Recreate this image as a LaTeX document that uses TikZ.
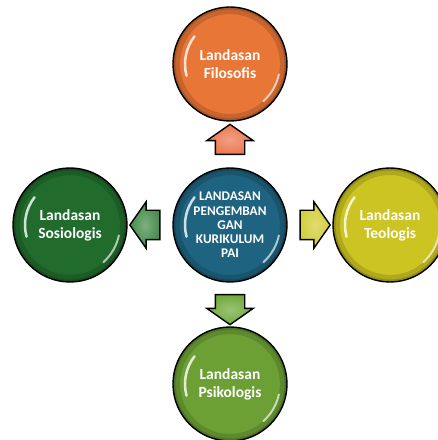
\documentclass[tikz,border=0pt]{standalone}
\usepackage{fontspec}
\usepackage{xcolor}
\usepackage{tikz}
\usetikzlibrary{shapes, shapes.arrows, positioning, calc}
\newfontfamily\carlito{Carlito}

\definecolor{oranye}{RGB}{232,118,55}
\definecolor{biru}{RGB}{30,99,128}
\definecolor{hijautua}{RGB}{33,108,45}
\definecolor{kuning}{RGB}{204,196,34}
\definecolor{hijaumuda}{RGB}{108,160,52}
\definecolor{panahoranye}{RGB}{236,120,80}
\definecolor{panahhijau}{RGB}{70,140,76}
\definecolor{panahkuning}{RGB}{210,206,56}
\definecolor{panahmuda}{RGB}{112,170,60}

\tikzset{
    bola/.style={circle, draw=black, line width=1.4pt, minimum size=114pt, inner sep=0pt,
        align=center, text=white, fill=#1,
        font=\carlito\bfseries\fontsize{15.5}{18}\selectfont,
        path picture={
            \coordinate (pc) at (path picture bounding box.center);
            \draw[#1!55!black, opacity=.3, line width=8pt] (pc) circle[radius=54pt];
            \draw[#1!55!black, opacity=.45, line width=3pt] (pc) circle[radius=56pt];
            \draw[white, opacity=.8, line width=2.5pt, line cap=round]
                ([shift={(142:45pt)}]pc) arc[start angle=142, end angle=195, radius=45pt];
            \draw[white, opacity=.65, line width=2pt, line cap=round]
                ([shift={(-12:50pt)}]pc) arc[start angle=-12, end angle=-48, radius=50pt];
        }},
    panah/.style={single arrow, draw=black, line width=1.4pt, inner xsep=0pt, inner ysep=14pt,
        minimum height=30pt, single arrow head extend=8.5pt, single arrow tip angle=110,
        inner color=#1!70!white, outer color=#1}
}

\begin{document}
\begin{tikzpicture}[x=1pt, y=1pt]
        \useasboundingbox (0, 0) rectangle (438, 440);

        \node[bola=biru, font=\carlito\bfseries\fontsize{13.3}{14.3}\selectfont] (pai) at (230, 215)
            {LANDASAN\\PENGEMBAN\\GAN\\KURIKULUM\\PAI};
        \node[bola=oranye] (filosofis) at (230, 376) {Landasan\\Filosofis};
        \node[bola=hijautua] (sosiologis) at (70, 215) {Landasan\\Sosiologis};
        \node[bola=kuning] (teologis) at (390, 215) {Landasan\\Teologis};
        \node[bola=hijaumuda] (psikologis) at (230, 56) {Landasan\\Psikologis};

        \node[panah=panahoranye, rotate=90] (keatas) at ($(pai)!0.5!(filosofis)$) {};
        \node[panah=panahhijau, rotate=180] (kekiri) at ($(pai)!0.5!(sosiologis)$) {};
        \node[panah=panahkuning] (kekanan) at ($(pai)!0.5!(teologis)$) {};
        \node[panah=panahmuda, rotate=270] (kebawah) at ($(pai)!0.5!(psikologis)$) {};
    \end{tikzpicture}
\end{document}
